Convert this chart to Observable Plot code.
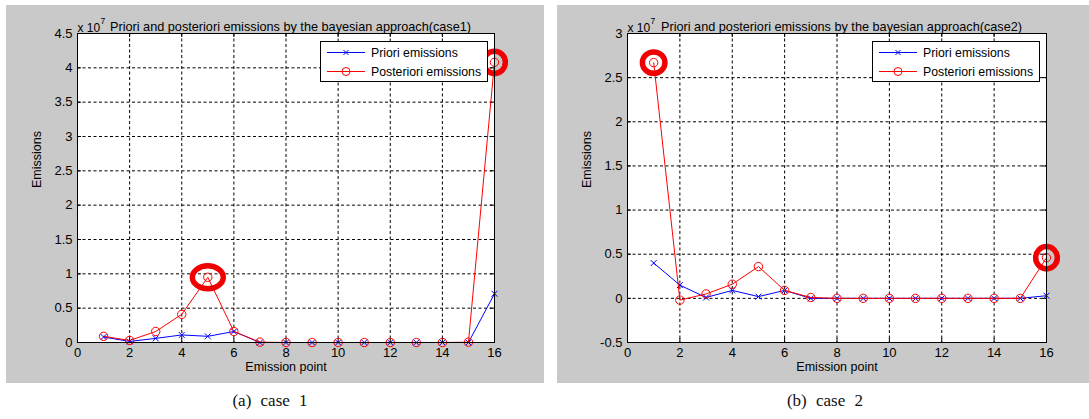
<!DOCTYPE html>
<html>
<head>
<meta charset="utf-8">
<script src="https://cdn.jsdelivr.net/npm/d3@7"></script>
<script src="https://cdn.jsdelivr.net/npm/@observablehq/plot@0.6"></script>
<style>
  body { margin: 0; background: #fff; }
  #root { position: relative; width: 1089px; height: 419px; overflow: hidden; font-family: "Liberation Sans", Arial, sans-serif; }
  .panel { position: absolute; top: 5px; height: 378px; background: #c9c9c9; }
  .panel svg { position: absolute; left: 0; top: 0; }
  .legend { position: absolute; }
  .caption { position: absolute; top: 391px; transform: translateX(-50%); white-space: nowrap;
             font-family: "Liberation Serif", "DejaVu Serif", serif; font-size: 17px; word-spacing: 5px; color: #111; }
</style>
</head>
<body>
<div id="root"></div>
<script>
// Emission points along the x axis
const emissionPoint = [1, 2, 3, 4, 5, 6, 7, 8, 9, 10, 11, 12, 13, 14, 15, 16];

// Emissions, in units of 10^7
const priori1     = [0.08, 0.015, 0.06, 0.11, 0.09, 0.16, 0, 0, 0, 0, 0, 0, 0, 0, 0, 0.71];
const posteriori1 = [0.09, 0.03, 0.16, 0.41, 0.95, 0.16, 0.005, 0, 0, 0, 0, 0, 0, 0, 0.005, 4.08];
const priori2     = [0.40, 0.15, 0.01, 0.09, 0.02, 0.09, 0, 0, 0, 0, 0, 0, 0, 0, 0, 0.03];
const posteriori2 = [2.67, -0.02, 0.05, 0.16, 0.36, 0.09, 0.01, 0, 0, 0, 0, 0, 0, 0, 0, 0.46];

// Posterior points ringed in red
const highlight1 = [5, 16];
const highlight2 = [1, 16];

// Axis ticks
const xTicks  = [0, 2, 4, 6, 8, 10, 12, 14, 16];
const yTicks1 = [0, 0.5, 1, 1.5, 2, 2.5, 3, 3.5, 4, 4.5];
const yTicks2 = [-0.5, 0, 0.5, 1, 1.5, 2, 2.5, 3];

const titles   = ["Priori and posteriori emissions by the bayesian approach(case1)",
                  "Priori and posteriori emissions by the bayesian approach(case2)"];
const captions = ["(a) case 1", "(b) case 2"];
const seriesNames = ["Priori emissions", "Posteriori emissions"];

const BLUE = "#0000ff", RED = "#ff0000", RING = "#f00000";
const FONT = '"Liberation Sans", Arial, sans-serif';

// Ellipse symbol for the red rings (aspect = width / height)
function ellipseSymbol(aspect) {
  return {
    draw(ctx, size) {
      const r = Math.sqrt(size / Math.PI);
      const rx = r * Math.sqrt(aspect), ry = r / Math.sqrt(aspect), k = 0.5523;
      ctx.moveTo(rx, 0);
      ctx.bezierCurveTo(rx, ry * k, rx * k, ry, 0, ry);
      ctx.bezierCurveTo(-rx * k, ry, -rx, ry * k, -rx, 0);
      ctx.bezierCurveTo(-rx, -ry * k, -rx * k, -ry, 0, -ry);
      ctx.bezierCurveTo(rx * k, -ry, rx, -ry * k, rx, 0);
      ctx.closePath();
    }
  };
}

function legendSvg() {
  const w = 168, h = 41;
  const svg = d3.create("svg").attr("width", w).attr("height", h)
    .style("font-family", FONT).style("font-size", "12.3px");
  svg.append("rect").attr("x", 0.5).attr("y", 0.5).attr("width", w - 1).attr("height", h - 1)
    .attr("fill", "#fff").attr("stroke", "#000");
  const rows = [{y: 11.5, color: BLUE, marker: "x"}, {y: 30.5, color: RED, marker: "o"}];
  rows.forEach((r, i) => {
    svg.append("line").attr("x1", 7).attr("x2", 45).attr("y1", r.y).attr("y2", r.y).attr("stroke", r.color);
    if (r.marker === "x") {
      svg.append("path").attr("d", `M23.5,${r.y - 2.5}l5,5M23.5,${r.y + 2.5}l5,-5`).attr("stroke", r.color);
    } else {
      svg.append("circle").attr("cx", 26).attr("cy", r.y).attr("r", 4).attr("fill", "none").attr("stroke", r.color);
    }
    svg.append("text").attr("x", 51).attr("y", r.y).attr("dy", "0.35em").attr("fill", "#000").text(seriesNames[i]);
  });
  return svg.node();
}

function drawPanel(cfg) {
  const root = document.getElementById("root");
  const panel = document.createElement("div");
  panel.className = "panel";
  panel.style.left = cfg.left + "px";
  panel.style.width = cfg.width + "px";
  root.appendChild(panel);

  const rows = emissionPoint.map((p, i) => ({point: p, priori: cfg.priori[i], posteriori: cfg.posteriori[i]}));
  const marginTop = 28, marginBottom = 41, height = 378;
  const plotH = height - marginTop - marginBottom;
  const plotW = cfg.width - cfg.marginLeft - cfg.marginRight;
  const grid = {stroke: "#000", strokeOpacity: 1, strokeWidth: 1, strokeDasharray: "3,2.5"};

  // one ring mark per highlighted point, each with its own size and shape
  const ringMarks = cfg.rings.map(ring => Plot.dot(rows.filter(d => d.point === ring.point), {
    x: "point", y: "posteriori", r: ring.r, symbol: ellipseSymbol(ring.aspect),
    stroke: RING, strokeWidth: 5.5, fill: "none"
  }));

  const chart = Plot.plot({
    width: cfg.width,
    height,
    marginLeft: cfg.marginLeft,
    marginRight: cfg.marginRight,
    marginTop,
    marginBottom,
    style: {background: "transparent", fontFamily: FONT, fontSize: "13px", color: "#000", overflow: "visible"},
    x: {domain: [0, 16]},
    y: {domain: cfg.yDomain},
    marks: [
      Plot.frame({fill: "#fff", stroke: "none"}),
      Plot.gridX(xTicks.slice(1, -1), grid),
      Plot.gridY(cfg.yTicks.slice(1, -1), grid),
      // inward tick marks on all four sides
      Plot.tickX(xTicks, {x: d => d, insetTop: plotH - 4, stroke: "#000"}),
      Plot.tickX(xTicks, {x: d => d, insetBottom: plotH - 4, stroke: "#000"}),
      Plot.tickY(cfg.yTicks, {y: d => d, insetRight: plotW - 4, stroke: "#000"}),
      Plot.tickY(cfg.yTicks, {y: d => d, insetLeft: plotW - 4, stroke: "#000"}),
      Plot.axisX(xTicks, {tickSize: 0, tickPadding: 5, label: null, tickFormat: d => String(d), fontSize: 13}),
      Plot.axisY(cfg.yTicks, {tickSize: 0, tickPadding: 5, label: null, tickFormat: d => String(d), fontSize: 13}),
      Plot.line(rows, {x: "point", y: "priori", stroke: BLUE, strokeWidth: 1}),
      Plot.dot(rows, {x: "point", y: "priori", symbol: "times", r: 2.8, stroke: BLUE, strokeWidth: 1}),
      Plot.line(rows, {x: "point", y: "posteriori", stroke: RED, strokeWidth: 1}),
      Plot.dot(rows, {x: "point", y: "posteriori", r: 4.2, stroke: RED, strokeWidth: 1}),
      ...ringMarks,
      Plot.frame({stroke: "#000"}),
      // labels and title
      Plot.text([cfg.title], {frameAnchor: "top", dx: 4.5, dy: -12, fontSize: 12.7, fill: "#000"}),
      Plot.text(["x 10"], {frameAnchor: "top-left", dy: -10, textAnchor: "start", fontSize: 12, fill: "#000"}),
      Plot.text(["7"], {frameAnchor: "top-left", dx: 23, dy: -15.5, textAnchor: "start", fontSize: 8.5, fill: "#000"}),
      Plot.text(["Emission point"], {frameAnchor: "bottom", dy: 28, fontSize: 12.5, fill: "#000"}),
      Plot.text(["Emissions"], {frameAnchor: "left", dx: -41, rotate: -90, fontSize: 12.5, fill: "#000"})
    ]
  });
  panel.appendChild(chart);

  const legend = document.createElement("div");
  legend.className = "legend";
  legend.style.left = (cfg.left + cfg.marginLeft + plotW - 6 - 168) + "px";
  legend.style.top = "41px";
  legend.appendChild(legendSvg());
  root.appendChild(legend);

  const cap = document.createElement("div");
  cap.className = "caption";
  cap.style.left = cfg.captionX + "px";
  cap.textContent = cfg.caption;
  root.appendChild(cap);
}

drawPanel({
  left: 6, width: 538, marginLeft: 71, marginRight: 50,
  priori: priori1, posteriori: posteriori1, yDomain: [0, 4.5], yTicks: yTicks1,
  rings: [{point: 5, r: 13.3, aspect: 1.35}, {point: 16, r: 11, aspect: 0.97}],
  title: titles[0], caption: captions[0], captionX: 270
});
drawPanel({
  left: 557, width: 532, marginLeft: 70, marginRight: 43,
  priori: priori2, posteriori: posteriori2, yDomain: [-0.5, 3], yTicks: yTicks2,
  rings: [{point: 1, r: 11, aspect: 1.05}, {point: 16, r: 11, aspect: 0.97}],
  title: titles[1], caption: captions[1], captionX: 825
});
</script>
</body>
</html>
